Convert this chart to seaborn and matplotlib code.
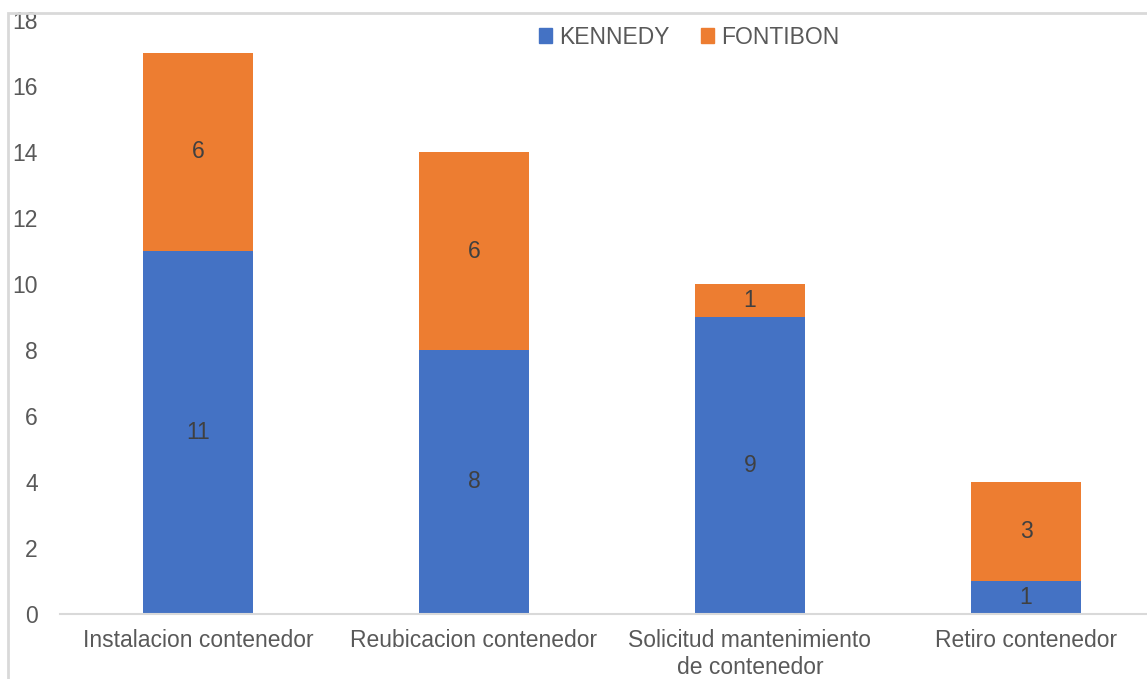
import pandas as pd
import matplotlib.pyplot as plt
import seaborn as sns
from matplotlib.patches import Patch, Rectangle

# data
categorias = ['Instalacion contenedor', 'Reubicacion contenedor',
              'Solicitud mantenimiento\nde contenedor', 'Retiro contenedor']
kennedy = [11, 8, 9, 1]
fontibon = [6, 6, 1, 3]

azul = '#4472C4'
naranja = '#ED7D31'
gris = '#595959'
fs = 16.5

sns.set_theme(style='white')
plt.rcParams['font.family'] = ['Liberation Sans', 'DejaVu Sans']

df = pd.DataFrame({'categoria': categorias, 'KENNEDY': kennedy, 'FONTIBON': fontibon})
df['total'] = df['KENNEDY'] + df['FONTIBON']

fig = plt.figure(figsize=(11.47, 6.79), dpi=100)
# axes runs past the right edge, like the cropped original
ax = fig.add_axes([60/1147, 65/679, 1104/1147, 594/679])

# stacked: draw total in orange, then kennedy in blue on top
sns.barplot(data=df, x='categoria', y='total', color=naranja, width=0.4,
            saturation=1, linewidth=0, ax=ax)
sns.barplot(data=df, x='categoria', y='KENNEDY', color=azul, width=0.4,
            saturation=1, linewidth=0, ax=ax)

for i, (k, f) in enumerate(zip(kennedy, fontibon)):
    ax.text(i, k / 2, str(k), ha='center', va='center', fontsize=fs, color='#404040')
    ax.text(i, k + f / 2, str(f), ha='center', va='center', fontsize=fs, color='#404040')

ax.set_xlim(-0.5, 3.5)
ax.set_ylim(0, 18)
ax.set_yticks(range(0, 19, 2))
ax.set_xlabel('')
ax.set_ylabel('')
ax.tick_params(axis='both', length=0, labelsize=fs, labelcolor=gris)
ax.tick_params(axis='y', pad=16)
ax.tick_params(axis='x', pad=11)
for s in ['top', 'right', 'left']:
    ax.spines[s].set_visible(False)
ax.spines['bottom'].set_color('#d9d9d9')
ax.spines['bottom'].set_linewidth(1.5)

handles = [Patch(color=azul, label='KENNEDY'), Patch(color=naranja, label='FONTIBON')]
ax.legend(handles=handles, loc='center', bbox_to_anchor=(689/1147, 1 - 37/679),
          bbox_transform=fig.transFigure, ncol=2, frameon=False, fontsize=fs,
          handlelength=0.6, handleheight=0.6, handletextpad=0.3, columnspacing=1.35,
          labelcolor=gris)

# light border of the chart area
fig.patches.append(Rectangle((8/1147, -0.1), 1.2, 1 - 13/679 + 0.1,
                             transform=fig.transFigure, fill=False,
                             edgecolor='#d9d9d9', linewidth=2))

fig.savefig('out.png', dpi=100)
